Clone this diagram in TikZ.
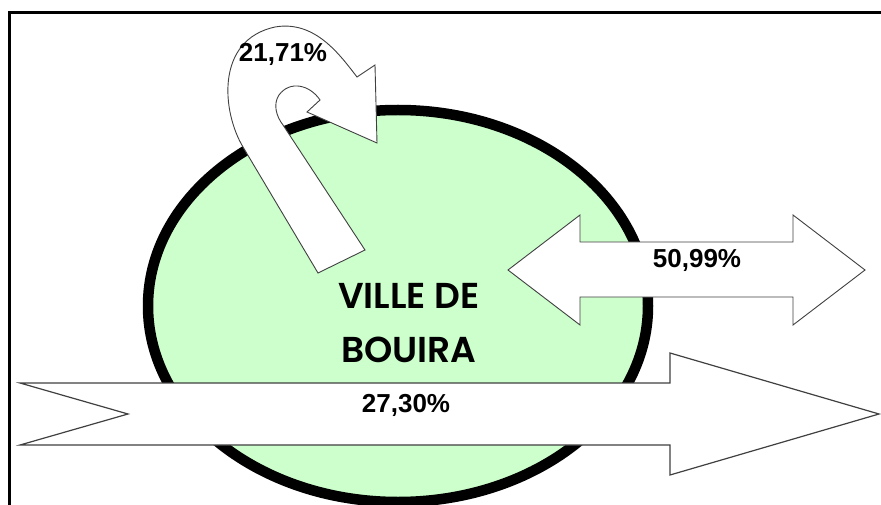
\documentclass[tikz,border=0pt]{standalone}
\usepackage{fontspec}
\setmainfont{Liberation Sans}
\newfontfamily\geofont{Poppins}[BoldFont={Poppins SemiBold}]
\usepackage{tikz}
\usetikzlibrary{shapes.geometric}
\definecolor{villegreen}{HTML}{CCFFCC}

\begin{document}
\begin{tikzpicture}[x=1pt,y=-1pt,
  ring/.style={ellipse,draw=black,line width=10.5pt,fill=villegreen,
               minimum width=500pt,minimum height=392pt,inner sep=0pt},
  flux/.style={draw=black!75,fill=white,line width=0.9pt,line join=miter},
  pct/.style={font=\fontsize{26}{28}\selectfont\bfseries,inner sep=0pt,anchor=base},
  ttl/.style={font=\geofont\fontsize{36}{40}\selectfont\bfseries,inner sep=0pt,anchor=base}
]
\useasboundingbox (0,0) rectangle (881,505);
% cadre
\draw[line width=2.5pt] (9.3,505) -- (9.3,12.3) -- (881,12.3);

\node[ring] (ville) at (398,306) {};

% fleche en boucle
\path[flux] (318,273) -- (243,147)
  .. controls (222,112) and (215,40) .. (275,27)
  .. controls (315,20) and (340,55) .. (357,77)
  -- (375,65) -- (377,143) -- (307,112) -- (320,100)
  .. controls (310,85) and (290,80) .. (279,95)
  .. controls (273,104) and (276,116) .. (283,125)
  -- (365,250) -- cycle;

% double fleche
\path[flux] (508,270) -- (580,215) -- (580,242) -- (793,242) -- (793,215)
  -- (865,270) -- (793,325) -- (793,297) -- (580,297) -- (580,325) -- cycle;

% grande fleche
\path[flux,line width=1.2pt] (20,383) -- (670,383) -- (670,353) -- (879,414)
  -- (670,475) -- (670,445) -- (20,445) -- (128,414) -- cycle;

\node[ttl] (ttlA) at (409,308) {VILLE DE};
\node[ttl] (ttlB) at (409,362) {BOUIRA};

\node[pct] (p1) at (283,62) {21,71\%};
\node[pct] (p2) at (697,267) {50,99\%};
\node[pct] (p3) at (406,412) {27,30\%};
\end{tikzpicture}
\end{document}
